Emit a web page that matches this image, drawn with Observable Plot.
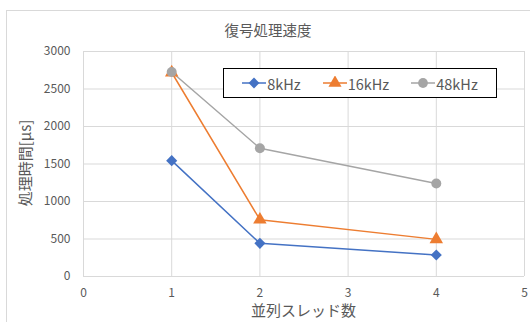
<!DOCTYPE html>
<html>
<head>
<meta charset="utf-8">
<script src="https://cdn.jsdelivr.net/npm/d3@7"></script>
<script src="https://cdn.jsdelivr.net/npm/@observablehq/plot@0.6"></script>
<style>
  body { margin: 0; background: #fff; }
  #wrap { position: relative; width: 530px; height: 322px; overflow: hidden; font-family: "Noto Sans CJK JP", "Noto Sans", sans-serif; color: #595959; }
  #frame { position: absolute; left: 6px; top: 10px; width: 600px; height: 400px; border: 1px solid #d9d9d9; box-sizing: border-box; }
  #plot { position: absolute; left: 0; top: 0; }
  .title { position: absolute; left: 0; width: 536px; top: 19px; text-align: center; font-size: 14.5px; }
  .xtitle { position: absolute; left: 83px; width: 441px; top: 301px; text-align: center; font-size: 15px; line-height: 18px; }
  .ytitle { position: absolute; left: 24px; top: 163px; transform: translate(-50%, -50%) rotate(-90deg); font-size: 15px; white-space: nowrap; }
  #legend { position: absolute; left: 223px; top: 68px; width: 274px; height: 30px; border: 1px solid #000; box-sizing: border-box; background: #fff; display: flex; align-items: center; justify-content: center; gap: 22px; font-size: 14.5px; }
  #legend .item { display: flex; align-items: center; gap: 1px; }
</style>
</head>
<body>
<div id="wrap">
  <div id="frame"></div>
  <div id="plot"></div>
  <div class="title">復号処理速度</div>
  <div class="ytitle">処理時間[μs]</div>
  <div class="xtitle">並列スレッド数</div>
  <div id="legend"></div>
</div>
<script>
const threads = [1, 2, 4];
const seriesNames = ["8kHz", "16kHz", "48kHz"];
const values8k = [1545, 442, 287];
const values16k = [2720, 757, 495];
const values48k = [2726, 1710, 1240];
const colors = ["#4472C4", "#ED7D31", "#A5A5A5"];
const symbols = ["diamond2", "triangle", "circle"];
const xTicks = [0, 1, 2, 3, 4, 5];
const yTicks = [0, 500, 1000, 1500, 2000, 2500, 3000];

const allValues = [values8k, values16k, values48k];
const data = [];
seriesNames.forEach((s, i) => threads.forEach((t, j) => data.push({series: s, x: t, y: allValues[i][j]})));

const chart = Plot.plot({
  width: 530,
  height: 322,
  marginLeft: 83,
  marginRight: 6,
  marginTop: 51,
  marginBottom: 46,
  style: { fontFamily: '"Noto Sans CJK JP", "Noto Sans", sans-serif', fontSize: "12px", color: "#595959", background: "transparent", overflow: "visible" },
  x: { domain: [0, 5], ticks: xTicks, tickFormat: d => String(d), tickSize: 0, tickPadding: 12, label: null },
  y: { domain: [0, 3000], ticks: yTicks, tickFormat: d => String(d), tickSize: 0, tickPadding: 13, label: null },
  color: { domain: seriesNames, range: colors },
  symbol: { domain: seriesNames, range: symbols },
  marks: [
    Plot.ruleX(xTicks, { stroke: "#d9d9d9", strokeWidth: 1 }),
    Plot.ruleY(yTicks, { stroke: "#d9d9d9", strokeWidth: 1 }),
    Plot.line(data, { x: "x", y: "y", z: "series", stroke: "series", strokeWidth: 1.5 }),
    Plot.dot(data, { x: "x", y: "y", fill: "series", symbol: "series", r: 5, stroke: null })
  ]
});
document.getElementById("plot").appendChild(chart);

const legend = document.getElementById("legend");
const symGen = { diamond2: d3.symbolDiamond2, triangle: d3.symbolTriangle, circle: d3.symbolCircle };
seriesNames.forEach((s, i) => {
  const item = document.createElement("div");
  item.className = "item";
  const svg = d3.create("svg").attr("width", 24).attr("height", 14);
  svg.append("line").attr("x1", 0).attr("x2", 24).attr("y1", 7).attr("y2", 7).attr("stroke", colors[i]).attr("stroke-width", 1.5);
  svg.append("path").attr("transform", "translate(12,7)").attr("d", d3.symbol(symGen[symbols[i]], 75)()).attr("fill", colors[i]);
  item.appendChild(svg.node());
  const label = document.createElement("span");
  label.textContent = s;
  item.appendChild(label);
  legend.appendChild(item);
});
</script>
</body>
</html>
